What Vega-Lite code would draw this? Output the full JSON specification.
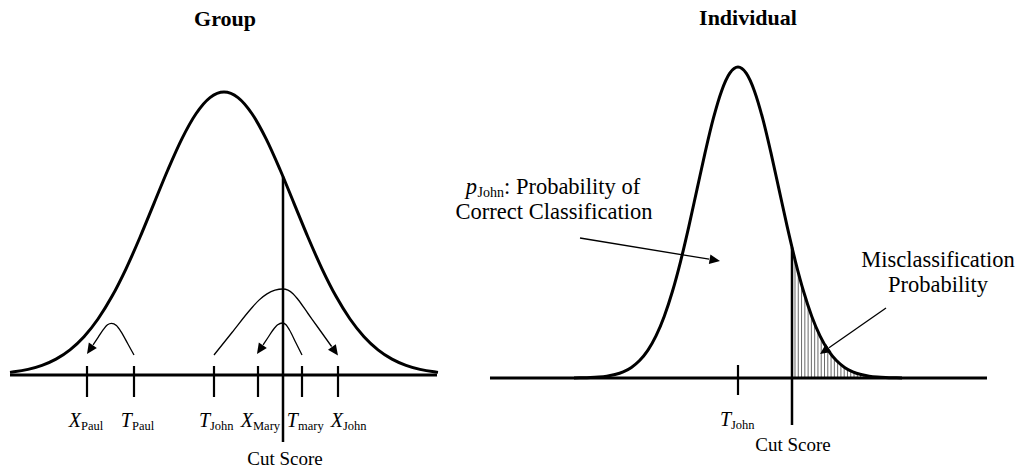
{
  "$schema": "https://vega.github.io/schema/vega-lite/v6.json",
  "autosize": {"type": "pad"},
  "padding": 0,
  "bounds": "flush",
  "spacing": 0,
  "background": "white",
  "config": {"view": {"stroke": null}, "axis": {"disable": true}},
  "datasets": {
    "lcurve": [{"x":19.43,"y":0.93},{"x":20,"y":1.11},{"x":22,"y":1.98},{"x":24,"y":3.41},{"x":26,"y":5.61},{"x":28,"y":8.89},{"x":30,"y":13.53},{"x":32,"y":19.79},{"x":34,"y":27.8},{"x":36,"y":37.53},{"x":38,"y":48.68},{"x":40,"y":60.65},{"x":42,"y":72.61},{"x":44,"y":83.53},{"x":46,"y":92.31},{"x":48,"y":98.02},{"x":50,"y":100},{"x":52,"y":98.02},{"x":54,"y":92.31},{"x":56,"y":83.53},{"x":58,"y":72.61},{"x":60,"y":60.65},{"x":62,"y":48.68},{"x":64,"y":37.53},{"x":66,"y":27.8},{"x":68,"y":19.79},{"x":70,"y":13.53},{"x":72,"y":8.89},{"x":74,"y":5.61},{"x":76,"y":3.41},{"x":78,"y":1.98},{"x":80,"y":1.11},{"x":80.57,"y":0.93}],
    "lbase": [{"x":19.429,"x2":80.429,"y":0}],
    "lticks": [{"x":30.429,"y":3.18,"y2":-7.77},{"x":37.143,"y":3.18,"y2":-7.77},{"x":48.571,"y":3.18,"y2":-7.77},{"x":54.857,"y":3.18,"y2":-7.77},{"x":61.143,"y":3.18,"y2":-7.77},{"x":66.286,"y":3.18,"y2":-7.77}],
    "lcut": [{"x":58.429,"y":70.1,"y2":-23.67}],
    "larcs": [
      {"id":"paul","x":37.143,"y":7.067},{"id":"paul","x":36.236,"y":11.12},{"id":"paul","x":35.329,"y":15.159},{"id":"paul","x":34.629,"y":17.491},{"id":"paul","x":33.929,"y":18.269},{"id":"paul","x":33.357,"y":17.739},{"id":"paul","x":32.776,"y":16.131},{"id":"paul","x":32.039,"y":13.392},{"id":"paul","x":31.3,"y":10.654},
      {"id":"mary","x":61.143,"y":7.067},{"id":"mary","x":60.25,"y":11.484},{"id":"mary","x":59.357,"y":15.901},{"id":"mary","x":58.857,"y":17.756},{"id":"mary","x":58.357,"y":18.375},{"id":"mary","x":57.671,"y":17.739},{"id":"mary","x":56.976,"y":15.813},{"id":"mary","x":56.286,"y":13.251},{"id":"mary","x":55.586,"y":10.654},
      {"id":"john","x":48.571,"y":7.067},{"id":"john","x":51.143,"y":15.018},{"id":"john","x":53.8,"y":23.233},{"id":"john","x":55.0,"y":26.466},{"id":"john","x":56.143,"y":28.657},{"id":"john","x":57.286,"y":29.965},{"id":"john","x":58.429,"y":30.389},{"id":"john","x":59.143,"y":29.965},{"id":"john","x":59.857,"y":28.728},{"id":"john","x":60.571,"y":26.678},{"id":"john","x":62.0,"y":21.731},{"id":"john","x":63.429,"y":16.784},{"id":"john","x":65.371,"y":10.071}
    ],
    "lheads": [{"x":30.429,"y":7.42,"a":33.7},{"x":54.714,"y":7.42,"a":33.7},{"x":66.286,"y":6.89,"a":-35.5}],
    "lmain": [{"x":29.571,"y":-18.375,"t":"X"},{"x":36.857,"y":-18.375,"t":"T"},{"x":48.0,"y":-18.375,"t":"T"},{"x":54.143,"y":-18.375,"t":"X"},{"x":60.571,"y":-18.375,"t":"T"},{"x":67.0,"y":-18.375,"t":"X"}],
    "lsub": [{"x":29.571,"y":-19.435,"t":"Paul"},{"x":36.857,"y":-19.435,"t":"Paul"},{"x":48.0,"y":-19.435,"t":"John"},{"x":54.143,"y":-19.435,"t":"Mary"},{"x":60.571,"y":-19.435,"t":"mary"},{"x":67.0,"y":-19.435,"t":"John"}],
    "lcuttext": [{"x":58.714,"y":-31.8,"t":"Cut Score"}],
    "ltitle": [{"x":50.143,"y":123.322,"t":"Group"}],
    "rhatch": [{"x":63.9,"y":38.06},{"x":64.7,"y":33.94},{"x":65.5,"y":30.08},{"x":66.3,"y":26.49},{"x":67.1,"y":23.18},{"x":67.9,"y":20.15},{"x":68.7,"y":17.4},{"x":69.5,"y":14.94},{"x":70.3,"y":12.74},{"x":71.1,"y":10.79},{"x":71.9,"y":9.09},{"x":72.7,"y":7.6},{"x":73.5,"y":6.32},{"x":74.3,"y":5.22},{"x":75.1,"y":4.29},{"x":75.9,"y":3.49},{"x":76.7,"y":2.83},{"x":77.5,"y":2.28},{"x":78.3,"y":1.82},{"x":79.1,"y":1.45},{"x":79.9,"y":1.14},{"x":80.7,"y":0.9}],
    "rcurve": [{"x":10,"y":0.03},{"x":12,"y":0.07},{"x":14,"y":0.15},{"x":16,"y":0.31},{"x":18,"y":0.6},{"x":20,"y":1.11},{"x":22,"y":1.98},{"x":24,"y":3.41},{"x":26,"y":5.61},{"x":28,"y":8.89},{"x":30,"y":13.53},{"x":32,"y":19.79},{"x":34,"y":27.8},{"x":36,"y":37.53},{"x":38,"y":48.68},{"x":40,"y":60.65},{"x":42,"y":72.61},{"x":44,"y":83.53},{"x":46,"y":92.31},{"x":48,"y":98.02},{"x":50,"y":100},{"x":52,"y":98.02},{"x":54,"y":92.31},{"x":56,"y":83.53},{"x":58,"y":72.61},{"x":60,"y":60.65},{"x":62,"y":48.68},{"x":64,"y":37.53},{"x":66,"y":27.8},{"x":68,"y":19.79},{"x":70,"y":13.53},{"x":72,"y":8.89},{"x":74,"y":5.61},{"x":76,"y":3.41},{"x":78,"y":1.98},{"x":80,"y":1.11},{"x":82,"y":0.6},{"x":84,"y":0.31},{"x":86,"y":0.15},{"x":88,"y":0.07},{"x":90,"y":0.03}],
    "rbase": [{"x":-10.49,"x2":110.73,"y":0}],
    "rtick": [{"x":50,"y":4.18,"y2":-5.466}],
    "rcut": [{"x":63.17,"y":42.01,"y2":-15.113}],
    "rarrows": [{"id":"a1","x":11.463,"y":45.016},{"id":"a1","x":42.951,"y":38.199},{"id":"a2","x":86.098,"y":22.508},{"id":"a2","x":72.195,"y":9.743}],
    "rheads": [{"x":45.61,"y":37.621,"a":-80.67},{"x":70.0,"y":7.717,"a":55.13}],
    "rmain": [{"x":48.293,"y":-15.434,"t":"T"}],
    "rsub": [{"x":48.293,"y":-16.399,"t":"John"}],
    "rcuttext": [{"x":63.415,"y":-23.473,"t":"Cut Score"}],
    "rtitle": [{"x":52.439,"y":113.505,"t":"Individual"}],
    "rnotes": [{"x":98.78,"y":35.691,"t":"Misclassification"},{"x":98.78,"y":27.653,"t":"Probability"},{"x":5.122,"y":51.125,"t":"Correct Classification"}],
    "rp": [{"x":-13.659,"y":59.164,"t":"p"}],
    "rpsub": [{"x":-13.537,"y":58.199,"t":"John"}],
    "rprob": [{"x":-7.073,"y":59.164,"t":": Probability of"}]
  },
  "hconcat": [
    {
      "width": 455,
      "height": 468,
      "layer": [
        {"data": {"name": "lcurve"}, "mark": {"type": "line", "color": "black", "strokeWidth": 3, "interpolate": "monotone"},
         "encoding": {"x": {"field": "x", "type": "quantitative", "scale": {"domain": [18, 83], "nice": false, "zero": false}, "axis": null},
                      "y": {"field": "y", "type": "quantitative", "scale": {"domain": [-32.862, 132.509], "nice": false, "zero": false}, "axis": null}}},
        {"data": {"name": "lbase"}, "mark": {"type": "rule", "color": "black", "strokeWidth": 3},
         "encoding": {"x": {"field": "x", "type": "quantitative"}, "x2": {"field": "x2"}, "y": {"field": "y", "type": "quantitative"}}},
        {"data": {"name": "lticks"}, "mark": {"type": "rule", "color": "black", "strokeWidth": 2.2},
         "encoding": {"x": {"field": "x", "type": "quantitative"}, "y": {"field": "y", "type": "quantitative"}, "y2": {"field": "y2"}}},
        {"data": {"name": "lcut"}, "mark": {"type": "rule", "color": "black", "strokeWidth": 2.5},
         "encoding": {"x": {"field": "x", "type": "quantitative"}, "y": {"field": "y", "type": "quantitative"}, "y2": {"field": "y2"}}},
        {"data": {"name": "larcs"}, "mark": {"type": "line", "color": "black", "strokeWidth": 1.3, "interpolate": "monotone"},
         "encoding": {"x": {"field": "x", "type": "quantitative"}, "y": {"field": "y", "type": "quantitative"}, "detail": {"field": "id"}}},
        {"data": {"name": "lheads"}, "mark": {"type": "point", "shape": "M0,0L-0.46,-1L0.46,-1Z", "size": 441, "filled": true, "color": "black", "opacity": 1, "strokeWidth": 0},
         "encoding": {"x": {"field": "x", "type": "quantitative"}, "y": {"field": "y", "type": "quantitative"}, "angle": {"field": "a", "type": "quantitative", "scale": null}}},
        {"data": {"name": "lmain"}, "mark": {"type": "text", "font": "Liberation Serif", "fontSize": 20, "fontStyle": "italic", "align": "right", "baseline": "alphabetic", "color": "black"},
         "encoding": {"x": {"field": "x", "type": "quantitative"}, "y": {"field": "y", "type": "quantitative"}, "text": {"field": "t"}}},
        {"data": {"name": "lsub"}, "mark": {"type": "text", "font": "Liberation Serif", "fontSize": 12.5, "align": "left", "baseline": "alphabetic", "color": "black"},
         "encoding": {"x": {"field": "x", "type": "quantitative"}, "y": {"field": "y", "type": "quantitative"}, "text": {"field": "t"}}},
        {"data": {"name": "lcuttext"}, "mark": {"type": "text", "font": "Liberation Serif", "fontSize": 19, "align": "center", "baseline": "alphabetic", "color": "black"},
         "encoding": {"x": {"field": "x", "type": "quantitative"}, "y": {"field": "y", "type": "quantitative"}, "text": {"field": "t"}}},
        {"data": {"name": "ltitle"}, "mark": {"type": "text", "font": "Liberation Serif", "fontSize": 22, "fontWeight": "bold", "align": "center", "baseline": "alphabetic", "color": "black"},
         "encoding": {"x": {"field": "x", "type": "quantitative"}, "y": {"field": "y", "type": "quantitative"}, "text": {"field": "t"}}}
      ]
    },
    {
      "width": 569,
      "height": 468,
      "layer": [
        {"data": {"name": "rhatch"}, "mark": {"type": "rule", "color": "#444444", "strokeWidth": 0.8},
         "encoding": {"x": {"field": "x", "type": "quantitative", "scale": {"domain": [-19.024, 119.756], "nice": false, "zero": false}, "axis": null},
                      "y": {"field": "y", "type": "quantitative", "scale": {"domain": [-28.939, 121.543], "nice": false, "zero": false}, "axis": null},
                      "y2": {"datum": 0}}},
        {"data": {"name": "rcurve"}, "mark": {"type": "line", "color": "black", "strokeWidth": 3, "interpolate": "monotone"},
         "encoding": {"x": {"field": "x", "type": "quantitative"}, "y": {"field": "y", "type": "quantitative"}}},
        {"data": {"name": "rbase"}, "mark": {"type": "rule", "color": "black", "strokeWidth": 3},
         "encoding": {"x": {"field": "x", "type": "quantitative"}, "x2": {"field": "x2"}, "y": {"field": "y", "type": "quantitative"}}},
        {"data": {"name": "rtick"}, "mark": {"type": "rule", "color": "black", "strokeWidth": 2.2},
         "encoding": {"x": {"field": "x", "type": "quantitative"}, "y": {"field": "y", "type": "quantitative"}, "y2": {"field": "y2"}}},
        {"data": {"name": "rcut"}, "mark": {"type": "rule", "color": "black", "strokeWidth": 2.5},
         "encoding": {"x": {"field": "x", "type": "quantitative"}, "y": {"field": "y", "type": "quantitative"}, "y2": {"field": "y2"}}},
        {"data": {"name": "rarrows"}, "mark": {"type": "line", "color": "black", "strokeWidth": 1.3},
         "encoding": {"x": {"field": "x", "type": "quantitative"}, "y": {"field": "y", "type": "quantitative"}, "detail": {"field": "id"}}},
        {"data": {"name": "rheads"}, "mark": {"type": "point", "shape": "M0,0L-0.46,-1L0.46,-1Z", "size": 441, "filled": true, "color": "black", "opacity": 1, "strokeWidth": 0},
         "encoding": {"x": {"field": "x", "type": "quantitative"}, "y": {"field": "y", "type": "quantitative"}, "angle": {"field": "a", "type": "quantitative", "scale": null}}},
        {"data": {"name": "rmain"}, "mark": {"type": "text", "font": "Liberation Serif", "fontSize": 20, "fontStyle": "italic", "align": "right", "baseline": "alphabetic", "color": "black"},
         "encoding": {"x": {"field": "x", "type": "quantitative"}, "y": {"field": "y", "type": "quantitative"}, "text": {"field": "t"}}},
        {"data": {"name": "rsub"}, "mark": {"type": "text", "font": "Liberation Serif", "fontSize": 12.5, "align": "left", "baseline": "alphabetic", "color": "black"},
         "encoding": {"x": {"field": "x", "type": "quantitative"}, "y": {"field": "y", "type": "quantitative"}, "text": {"field": "t"}}},
        {"data": {"name": "rcuttext"}, "mark": {"type": "text", "font": "Liberation Serif", "fontSize": 19, "align": "center", "baseline": "alphabetic", "color": "black"},
         "encoding": {"x": {"field": "x", "type": "quantitative"}, "y": {"field": "y", "type": "quantitative"}, "text": {"field": "t"}}},
        {"data": {"name": "rtitle"}, "mark": {"type": "text", "font": "Liberation Serif", "fontSize": 22, "fontWeight": "bold", "align": "center", "baseline": "alphabetic", "color": "black"},
         "encoding": {"x": {"field": "x", "type": "quantitative"}, "y": {"field": "y", "type": "quantitative"}, "text": {"field": "t"}}},
        {"data": {"name": "rnotes"}, "mark": {"type": "text", "font": "Liberation Serif", "fontSize": 22.5, "align": "center", "baseline": "alphabetic", "color": "black"},
         "encoding": {"x": {"field": "x", "type": "quantitative"}, "y": {"field": "y", "type": "quantitative"}, "text": {"field": "t"}}},
        {"data": {"name": "rp"}, "mark": {"type": "text", "font": "Liberation Serif", "fontSize": 22.5, "fontStyle": "italic", "align": "right", "baseline": "alphabetic", "color": "black"},
         "encoding": {"x": {"field": "x", "type": "quantitative"}, "y": {"field": "y", "type": "quantitative"}, "text": {"field": "t"}}},
        {"data": {"name": "rpsub"}, "mark": {"type": "text", "font": "Liberation Serif", "fontSize": 14, "align": "left", "baseline": "alphabetic", "color": "black"},
         "encoding": {"x": {"field": "x", "type": "quantitative"}, "y": {"field": "y", "type": "quantitative"}, "text": {"field": "t"}}},
        {"data": {"name": "rprob"}, "mark": {"type": "text", "font": "Liberation Serif", "fontSize": 22.5, "align": "left", "baseline": "alphabetic", "color": "black"},
         "encoding": {"x": {"field": "x", "type": "quantitative"}, "y": {"field": "y", "type": "quantitative"}, "text": {"field": "t"}}}
      ]
    }
  ]
}
